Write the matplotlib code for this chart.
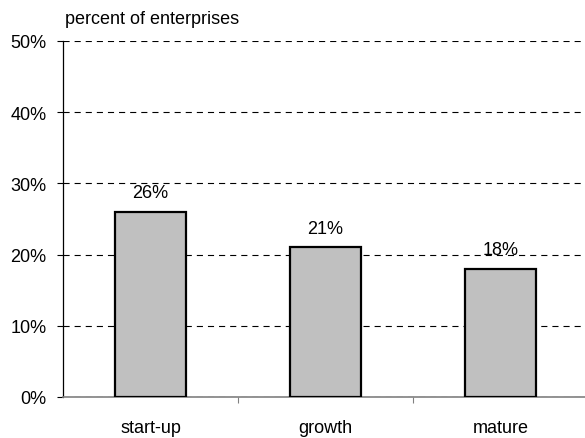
import matplotlib.pyplot as plt
import numpy as np

# Data
stages = ['start-up', 'growth', 'mature']
shares = [26, 21, 18]          # percent of enterprises
y_ticks = [0, 10, 20, 30, 40, 50]

W, H = 585, 439
FS = 13
fig = plt.figure(figsize=(W / 100, H / 100), dpi=100)
plt.rcParams['font.family'] = ['Liberation Sans', 'DejaVu Sans']

# axes in pixel coords: left 63, right 588, top 42, bottom 398
ax = fig.add_axes([63 / W, 1 - 398 / H, 525 / W, 356 / H])

x = np.arange(len(stages))
ax.bar(x, shares, width=0.405, color='#C0C0C0', edgecolor='black', linewidth=1.6, zorder=3)

for xi, v in zip(x, shares):
    ax.text(xi, v + 1.5, f'{v}%', ha='center', va='bottom', fontsize=FS, zorder=4)

ax.set_xlim(-0.5, 2.5)
ax.set_ylim(0, 50)
ax.set_yticks(y_ticks)
ax.set_yticklabels([f'{t}%' for t in y_ticks], fontsize=FS)
ax.yaxis.grid(True, linestyle=(0, (5.5, 4.5)), color='black', linewidth=0.8)
ax.set_axisbelow(True)

# category labels centered, ticks between categories
ax.set_xticks([0.5, 1.5])
ax.set_xticklabels([])
ax.set_xticks(x, minor=True)
ax.set_xticklabels(stages, minor=True, fontsize=FS)
ax.tick_params(axis='x', which='minor', length=0, pad=16)
ax.tick_params(axis='x', which='major', length=4, color='#808080')
ax.tick_params(axis='y', length=4, pad=8)

for s in ['top', 'right']:
    ax.spines[s].set_visible(False)
ax.spines['bottom'].set_color('#808080')
ax.spines['bottom'].set_linewidth(1.2)
ax.spines['left'].set_linewidth(0.9)

fig.text(65 / W, 1 - 20 / H, 'percent of enterprises', fontsize=FS, va='center', ha='left')

fig.savefig('out.png', dpi=100)
